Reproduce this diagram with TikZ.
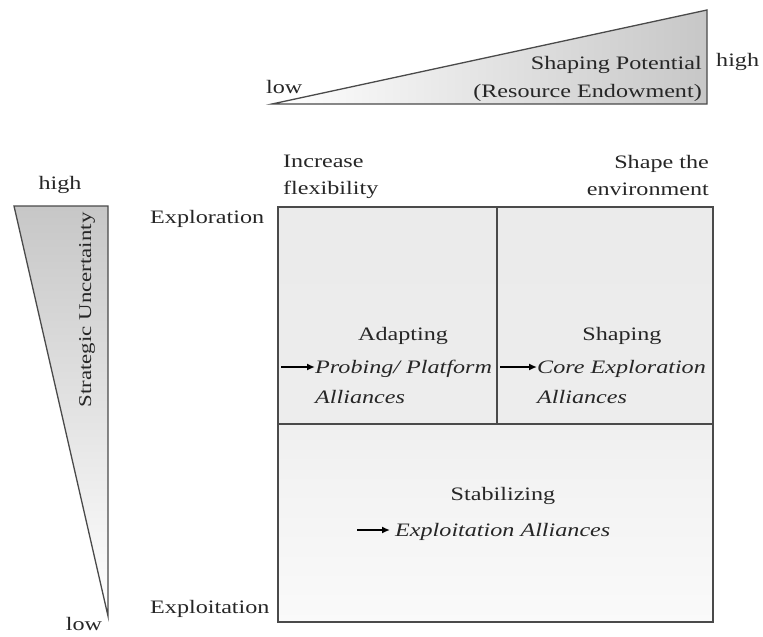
\documentclass[tikz,border=0pt]{standalone}
\usepackage{fontspec}
\setmainfont{Liberation Serif}[FakeStretch=1.27]
\usetikzlibrary{arrows.meta}
\definecolor{ink}{HTML}{262626}
\definecolor{edge}{HTML}{4A4A4A}
\tikzset{
  lbl/.style={inner sep=0pt, text=ink, font=\fontsize{19}{23}\selectfont},
  itl/.style={lbl, font=\fontsize{19}{23}\selectfont\itshape},
  frame/.style={draw=edge, line width=1.3pt},
  arr/.style={-{Latex[length=8pt,width=7pt]}, line width=1.6pt, black},
}
\begin{document}
\begin{tikzpicture}[x=1pt,y=-1pt]
\useasboundingbox (0,0) rectangle (763,637);
% top triangle
\shade[left color=white, right color=black!22] (272,104) -- (707,10) -- (707,104) -- cycle;
\draw[frame, line join=miter] (272,104) -- (707,10) -- (707,104) -- cycle;
\node[lbl, anchor=base east] (sp) at (702,69) {Shaping Potential};
\node[lbl, anchor=base east] (re) at (702,97) {(Resource Endowment)};
\node[lbl, anchor=base west] (tlow) at (266,93) {low};
\node[lbl, anchor=base west] (thigh) at (716,66) {high};
% left triangle
\shade[top color=black!22, bottom color=white] (14,206) -- (108,206) -- (108,616) -- cycle;
\draw[frame] (14,206) -- (108,206) -- (108,616) -- cycle;
\node[lbl, rotate=90, font=\fontsize{18}{22}\selectfont] (su) at (87,310) {Strategic Uncertainty};
\node[lbl] (lhigh) at (60,185) {high};
\node[lbl, anchor=base] (llow) at (84,630) {low};
% matrix cells
\shade[top color=black!8, bottom color=black!7] (278,207) rectangle (713,424);
\shade[top color=black!6, bottom color=black!2] (278,424) rectangle (713,622);
\draw[frame] (278,207) rectangle (713,622);
\draw[frame] (278,424) -- (713,424);
\draw[frame] (497,207) -- (497,424);
% axis labels
\node[lbl, anchor=base west] (inc1) at (283,167) {Increase};
\node[lbl, anchor=base west] (inc2) at (283,194) {flexibility};
\node[lbl, anchor=base east] (sh1) at (709,168) {Shape the};
\node[lbl, anchor=base east] (sh2) at (709,195) {environment};
\node[lbl, anchor=base west] (explor) at (150,223) {Exploration};
\node[lbl, anchor=base west] (exploi) at (150,613) {Exploitation};
% Adapting
\node[lbl, anchor=base] (ad) at (403,340) {Adapting};
\node[itl, anchor=base west] (pp) at (315,373) {Probing/ Platform};
\node[itl, anchor=base west] (ppa) at (315,403) {Alliances};
\coordinate (a1) at (281,367);
\draw[arr] (a1) -- (pp.west |- a1);
% Shaping
\node[lbl, anchor=base] (shp) at (622,340) {Shaping};
\node[itl, anchor=base west] (ce) at (537,373) {Core Exploration};
\node[itl, anchor=base west] (cea) at (537,403) {Alliances};
\coordinate (a2) at (500,367);
\draw[arr] (a2) -- (ce.west |- a2);
% Stabilizing
\node[lbl, anchor=base] (st) at (503,500) {Stabilizing};
\node[itl, anchor=base west] (ea) at (395,536) {Exploitation Alliances};
\coordinate (a3) at (357,530);
\draw[arr] (a3) -- ([xshift=-5pt]ea.west |- a3);
\end{tikzpicture}
\end{document}
